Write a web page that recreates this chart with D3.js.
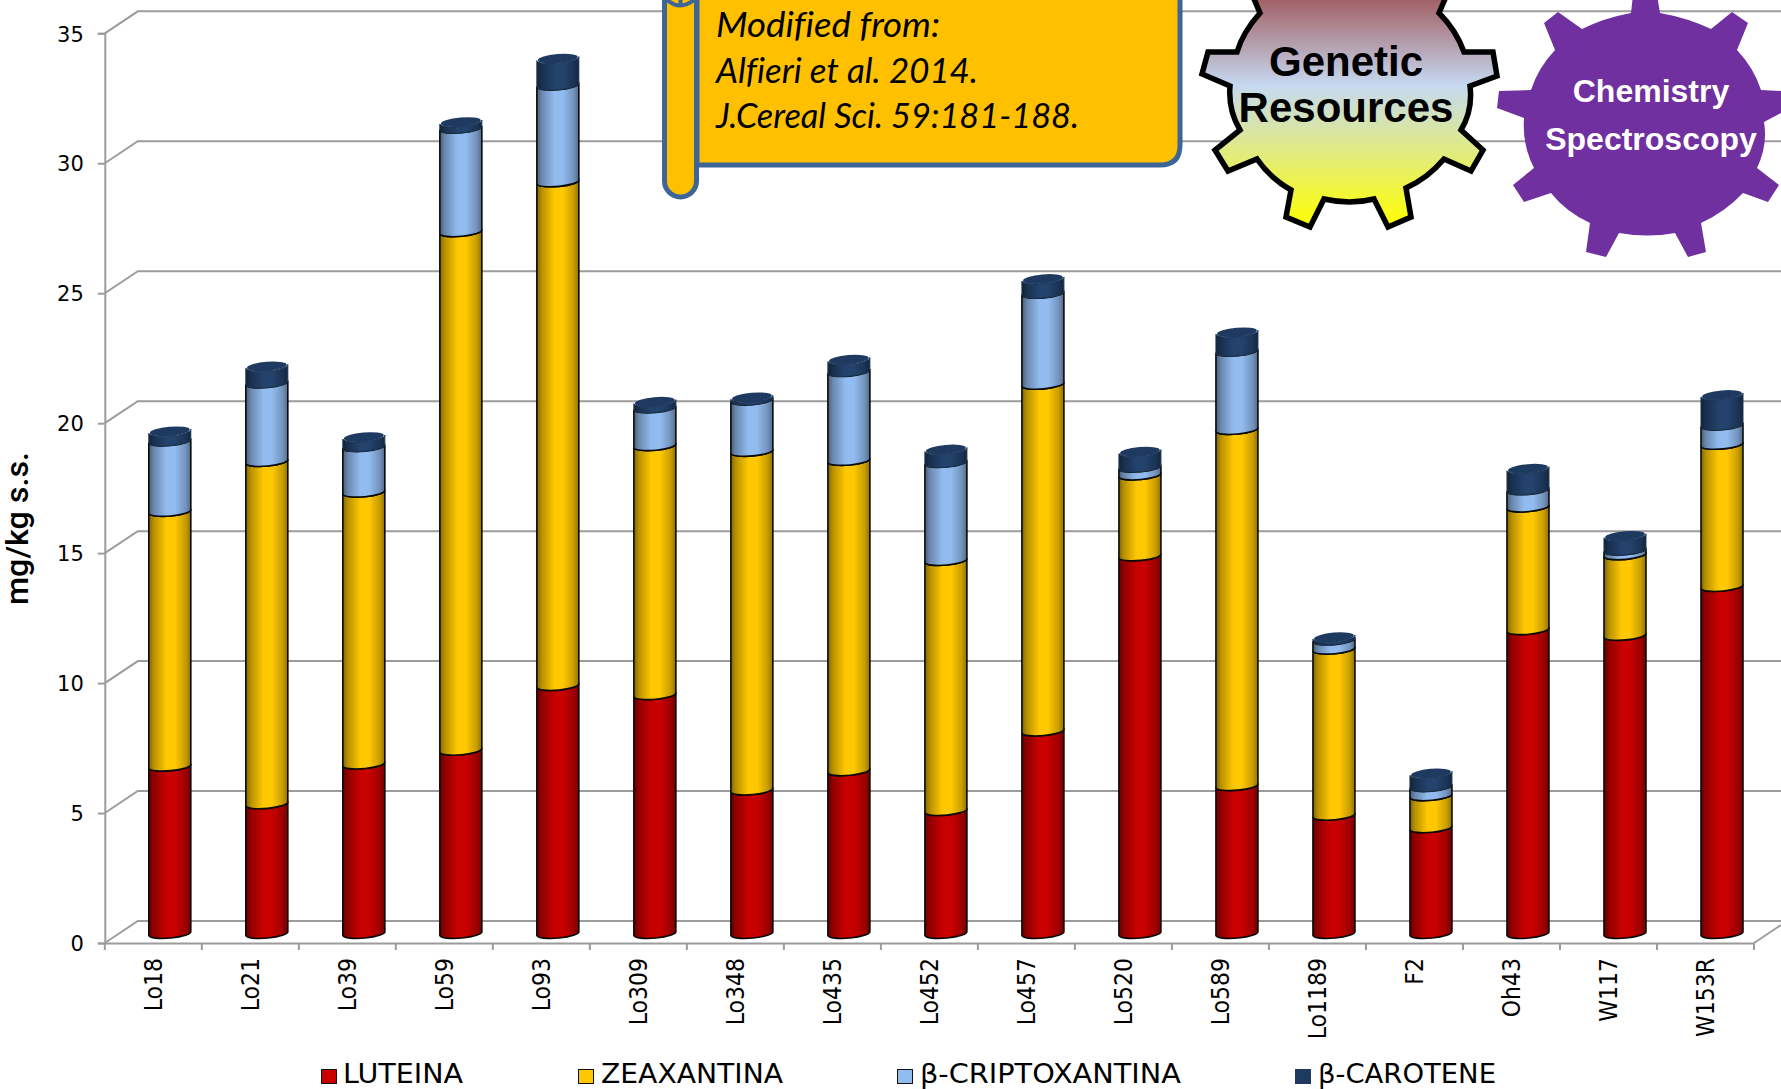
<!DOCTYPE html>
<html>
<head>
<meta charset="utf-8">
<style>
html,body{margin:0;padding:0;background:#fff;overflow:hidden}
svg{display:block}
</style>
<script src="https://cdn.jsdelivr.net/npm/d3@7"></script>
</head>
<body>
<svg id="chart" width="1781" height="1089"></svg>
<script>
// Carotenoid content of maize inbred lines, stacked by pigment
const categories = ["Lo18","Lo21","Lo39","Lo59","Lo93","Lo309","Lo348","Lo435","Lo452","Lo457","Lo520","Lo589","Lo1189","F2","Oh43","W117","W153R"];
const luteina = [6.44,4.99,6.52,7.05,9.54,9.19,5.52,6.26,4.73,7.79,14.53,5.69,4.55,4.07,11.69,11.47,13.35];
const zeaxantina = [9.8,13.17,10.46,19.95,19.38,9.58,13.03,11.94,9.62,13.34,3.11,13.7,6.39,1.23,4.72,3.1,5.47];
const criptoxantina = [2.71,3.02,1.75,3.98,3.72,1.45,1.97,3.42,3.77,3.5,0.3,3.01,0.35,0.35,0.66,0.18,0.74];
const carotene = [0.37,0.64,0.37,0.24,1.02,0.24,0.11,0.46,0.5,0.55,0.6,0.73,0.11,0.51,0.81,0.55,1.16];
const seriesNames = ["LUTEINA","ZEAXANTINA","β-CRIPTOXANTINA","β-CAROTENE"];
const seriesColors = ["#C80000","#FFC800","#92BCF0","#23426C"];
const yTicks = [0,5,10,15,20,25,30,35];

const svg = d3.select("#chart").attr("font-family","DejaVu Sans");
const defs = svg.append("defs");

const W = 1781, depthX = 33, depthY = 22, gridColor = "#9c9c9c";
const x = d3.scaleBand().domain(categories).range([104.8,1754]);
const y = d3.scaleLinear().domain([0,35]).range([943,33.3]);

const table = categories.map((c,i)=>({
  c, [seriesNames[0]]:luteina[i], [seriesNames[1]]:zeaxantina[i],
  [seriesNames[2]]:criptoxantina[i], [seriesNames[3]]:carotene[i]
}));
const stacked = d3.stack().keys(seriesNames)(table);

// Horizontal shading that makes each column read as a cylinder
seriesColors.forEach((col,i)=>{
  const g = defs.append("linearGradient").attr("id","cyl"+i);
  const dark = f=>d3.rgb(col).darker(f).formatHex();
  [[0,dark(1.9)],[0.12,dark(0.9)],[0.42,col],[0.62,col],[0.88,dark(0.7)],[1,dark(1.6)]]
    .forEach(s=>g.append("stop").attr("offset",s[0]).attr("stop-color",s[1]));
});

// Walls and floor
const frame = svg.append("g").attr("fill","none").attr("stroke",gridColor).attr("stroke-width",2);
yTicks.forEach(t=>{
  const yy = y(t);
  frame.append("path").attr("d",`M${x.range()[0]},${yy}L${x.range()[0]+depthX},${yy-depthY}L${W},${yy-depthY}`);
});
frame.append("line").attr("x1",x.range()[1]).attr("y1",y(0)).attr("x2",W).attr("y2",y(0)-depthY*27/33);

const yAxis = d3.axisLeft(y).tickValues(yTicks).tickSize(7).tickPadding(14);
const gy = svg.append("g").attr("transform",`translate(${x.range()[0]},0)`).call(yAxis);
gy.selectAll("line,path").attr("stroke",gridColor).attr("stroke-width",2);
gy.selectAll("text").attr("font-size",21).attr("font-family","DejaVu Sans").attr("y",1);

const xAxis = d3.axisBottom(x).tickSize(0).tickPadding(0);
const gx = svg.append("g").attr("transform",`translate(0,${y(0)})`).call(xAxis);
gx.select("path").attr("stroke",gridColor).attr("stroke-width",2);
gx.selectAll(".tick text")
  .attr("font-size",22).attr("font-family","DejaVu Sans")
  .attr("text-anchor","end").attr("dominant-baseline","middle")
  .attr("x",0).attr("y",0).attr("dy",0)
  .attr("transform","translate(2,15) rotate(-90) scale(1,1.12)");
const boundaries = categories.map(c=>x(c)).concat([x.range()[1]]);
svg.append("g").selectAll("line").data(boundaries).join("line")
  .attr("x1",d=>d).attr("x2",d=>d).attr("y1",y(0)).attr("y2",y(0)+7)
  .attr("stroke",gridColor).attr("stroke-width",2);

// Columns
const barW = 42, rx = barW/2, ry = 4.6, tilt = -5, tiltDy = 2, floorLift = 9.5;
const barCx = c => x(c)+x.bandwidth()/2+depthX/2;
const barY = v => y(v)-floorLift;
function sidePath(cx,y0,y1){
  const l = cx-rx, r = cx+rx;
  return `M${l},${y1+tiltDy}L${l},${y0+tiltDy}A${rx},${ry} ${tilt} 0 0 ${r},${y0-tiltDy}L${r},${y1-tiltDy}A${rx},${ry} ${tilt} 0 1 ${l},${y1+tiltDy}Z`;
}
const layers = svg.append("g");
stacked.forEach((s,i)=>{
  layers.append("g").selectAll("path").data(s).join("path")
    .attr("d",d=>sidePath(barCx(d.data.c),barY(d[0]),barY(d[1])))
    .attr("fill",`url(#cyl${i})`)
    .attr("stroke",i===3?"#1b3555":"#0a0a0a")
    .attr("stroke-width",i===3?1:1.6)
    .attr("stroke-linejoin","round");
});
// Caps on the top pigment
layers.append("g").selectAll("ellipse").data(stacked[3]).join("ellipse")
  .attr("cx",d=>barCx(d.data.c)).attr("cy",d=>barY(d[1]))
  .attr("rx",rx-1).attr("ry",ry)
  .attr("transform",d=>`rotate(${tilt},${barCx(d.data.c)},${barY(d[1])})`)
  .attr("fill","#1f3a60");

// Y axis title
svg.append("text").attr("transform","translate(28,605) rotate(-90)")
  .attr("font-size",31).attr("font-weight",500).attr("font-family","Roboto")
  .attr("textLength",153).attr("lengthAdjust","spacingAndGlyphs").text("mg/kg s.s.");

// Legend
const legendSwatchX = [321,578,897,1295], legendTextX = [343,601,920,1318], legendWidths = [120,182,261,178];
seriesNames.forEach((n,i)=>{
  svg.append("rect").attr("x",legendSwatchX[i]+.5).attr("y",1069.5).attr("width",15).attr("height",14)
    .attr("fill",i===3?"#1F3A60":seriesColors[i])
    .attr("stroke",i===3?"#1F3A60":"#111").attr("stroke-width",1);
  svg.append("text").attr("x",legendTextX[i]).attr("y",1082.8).attr("font-size",26)
    .attr("textLength",legendWidths[i]).attr("lengthAdjust","spacingAndGlyphs").text(n);
});

// Citation scroll
const stroke = "#3D6597";
const note = svg.append("g");
note.append("path")
  .attr("d","M697,-10L1180,-10L1180,145Q1180,165 1160,165L697,165Z")
  .attr("fill","#FFC000").attr("stroke",stroke).attr("stroke-width",5);
note.append("path")
  .attr("d","M664.5,-10L664.5,181A16,16 0 0 0 696.5,181L696.5,-10Z")
  .attr("fill","#FFC000").attr("stroke",stroke).attr("stroke-width",5);
note.append("path").attr("d","M667,0Q680,11 694,0M680.5,0L680.5,6").attr("fill","none").attr("stroke",stroke).attr("stroke-width",4);
[["Modified from:",37,224],["Alfieri et al. 2014.",83,262],["J.Cereal Sci. 59:181-188.",128,363]].forEach(l=>{
  note.append("text").attr("x",716).attr("y",l[1]).attr("font-family","Lato").attr("font-style","italic")
    .attr("font-size",35).style("font-variant-ligatures","none")
    .attr("textLength",l[2]).attr("lengthAdjust","spacingAndGlyphs").text(l[0]);
});

// Gear badges
const grad = defs.append("linearGradient").attr("id","gearFill")
  .attr("gradientUnits","userSpaceOnUse").attr("x1",0).attr("x2",0).attr("y1",-30).attr("y2",227);
[[0,"#953735"],[0.45,"#C6D9F1"],[1,"#FFFF00"]].forEach(s=>grad.append("stop").attr("offset",s[0]).attr("stop-color",s[1]));

const gearA = "M1251,-8L1260,13Q1243,32 1237,52L1208,52L1202,74L1230,86Q1228,110 1240,130L1215,150L1228,171L1257,159Q1270,178 1291,190L1286,217L1310,227L1324,199Q1350,205 1374,199L1388,227L1411,217L1406,188Q1428,178 1444,159L1471,171L1483,150L1461,130Q1473,110 1470,86L1497,76L1493,52L1464,52Q1456,30 1439,13L1448,-8Z";
svg.append("path").attr("d",gearA).attr("fill","url(#gearFill)").attr("stroke","#000").attr("stroke-width",5.5).attr("stroke-linejoin","miter");

const gearB = "M1633,-5L1631,13Q1604,18 1582,29L1558,12L1544,23L1555,50Q1538,68 1531,90L1499,91L1497,108L1524,118Q1522,145 1534,168L1513,185L1524,202L1551,193Q1566,212 1590,223L1586,252L1606,257L1619,233Q1648,238 1675,233L1688,257L1706,252L1701,223Q1725,212 1743,193L1768,202L1779,185L1757,168Q1768,145 1764,122L1781,113L1781,91L1761,90Q1754,68 1737,50L1748,23L1732,12L1711,29Q1688,18 1660,13L1657,-5Z";
svg.append("path").attr("d",gearB).attr("fill","#7030A0");

const badgeText = [["Genetic",1346,76,42,"#000"],["Resources",1346,122,42,"#000"],["Chemistry",1651,102,32,"#fff"],["Spectroscopy",1651,150,32,"#fff"]];
badgeText.forEach(t=>{
  svg.append("text").attr("x",t[1]).attr("y",t[2]).attr("text-anchor","middle")
    .attr("font-family","Liberation Sans").attr("font-weight","bold").attr("font-size",t[3])
    .attr("fill",t[4]).text(t[0]);
});
</script>
</body>
</html>
